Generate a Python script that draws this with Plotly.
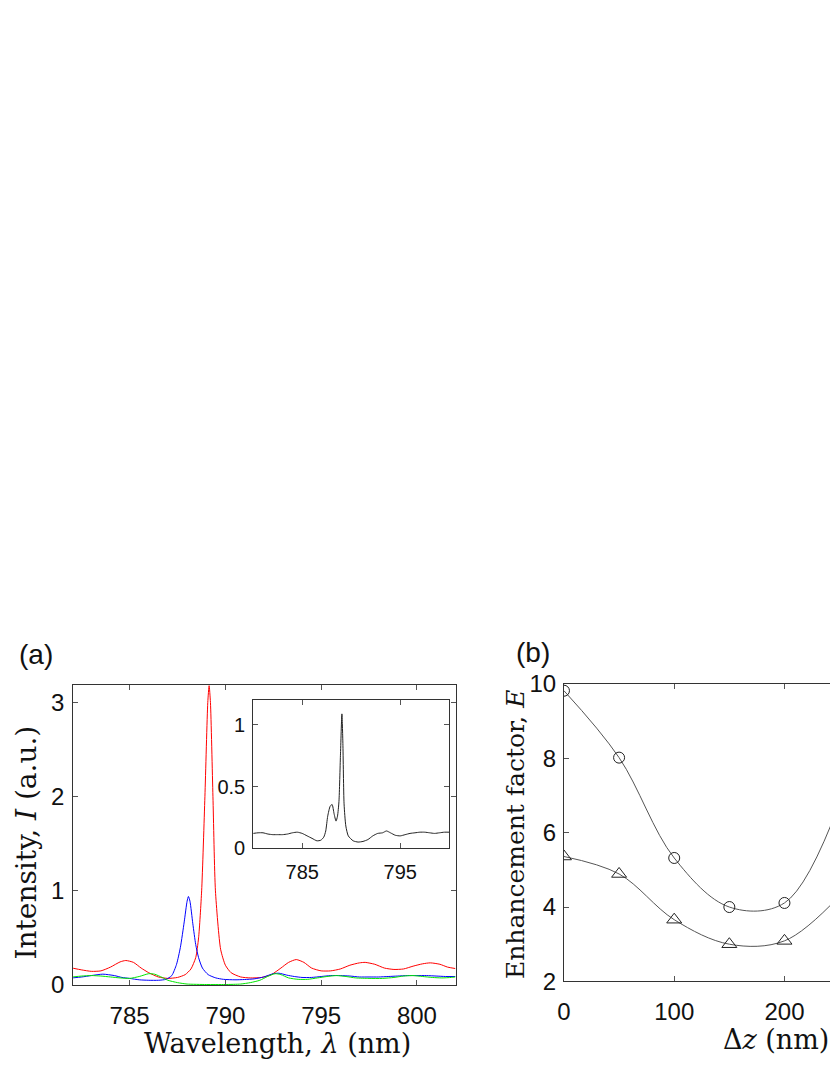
import plotly.graph_objects as go

# ---------------- Panel (a): spectra ----------------
red_wl = [782.0, 782.5, 783.0, 783.5, 784.0, 784.5, 784.8, 785.2, 785.6, 786.0, 786.5, 787.0,
          787.5, 787.9, 788.2, 788.45, 788.6, 788.76, 788.93, 789.08, 789.15, 789.22, 789.35,
          789.48, 789.75, 790.0, 790.3, 790.8, 791.3, 791.9, 792.4, 792.9, 793.3, 793.7,
          794.1, 794.5, 795.0, 795.5, 796.0, 796.5, 797.0, 797.3, 797.8, 798.3, 798.8,
          799.3, 799.8, 800.3, 800.7, 801.2, 801.6, 802.0]
red_I = [0.18, 0.16, 0.145, 0.15, 0.19, 0.245, 0.26, 0.24, 0.18, 0.13, 0.085, 0.07,
         0.08, 0.11, 0.17, 0.29, 0.5, 1.0, 2.0, 3.0, 3.18, 3.0, 2.0,
         1.0, 0.38, 0.21, 0.13, 0.085, 0.075, 0.08, 0.11, 0.18, 0.24, 0.27,
         0.24, 0.18, 0.15, 0.15, 0.17, 0.21, 0.235, 0.24, 0.22, 0.18, 0.165,
         0.17, 0.2, 0.225, 0.235, 0.22, 0.19, 0.175]

blue_wl = [782.0, 782.5, 783.0, 783.6, 784.2, 784.6, 785.0, 785.5, 786.0, 786.5, 786.9, 787.2,
           787.45, 787.65, 787.85, 788.0, 788.07, 788.15, 788.3, 788.45, 788.6, 788.8, 789.1,
           789.5, 789.9, 790.5, 791.0, 791.5, 792.0, 792.5, 792.8, 793.2, 793.6, 794.0,
           794.5, 795.0, 795.5, 796.0, 796.5, 797.0, 797.5, 798.0, 798.5, 799.0, 799.5,
           800.0, 800.5, 801.0, 801.5, 802.0]
blue_I = [0.075, 0.085, 0.1, 0.115, 0.1, 0.08, 0.07, 0.055, 0.05, 0.05, 0.06, 0.1,
          0.22, 0.4, 0.67, 0.89, 0.94, 0.89, 0.65, 0.43, 0.29, 0.18, 0.11,
          0.075, 0.06, 0.055, 0.058, 0.065, 0.085, 0.12, 0.125, 0.105, 0.09, 0.08,
          0.08, 0.09, 0.1, 0.1, 0.095, 0.085, 0.085, 0.085, 0.09, 0.095, 0.1,
          0.1, 0.1, 0.095, 0.09, 0.09]

green_wl = [782.0, 782.5, 783.0, 783.5, 784.0, 784.5, 785.0, 785.5, 786.0, 786.3, 786.7, 787.0,
            787.5, 788.0, 789.0, 790.0, 790.8, 791.3, 791.8, 792.2, 792.6, 792.9, 793.3,
            793.8, 794.3, 794.8, 795.3, 795.8, 796.3, 796.8, 797.5, 798.2, 798.8, 799.3,
            799.8, 800.3, 800.8, 801.3, 801.8, 802.0]
green_I = [0.085, 0.095, 0.1, 0.095, 0.085, 0.075, 0.07, 0.09, 0.12, 0.115, 0.08, 0.05,
           0.025, 0.01, 0.005, 0.005, 0.01, 0.025, 0.05, 0.09, 0.12, 0.11, 0.075,
           0.06, 0.06, 0.075, 0.09, 0.1, 0.09, 0.075, 0.07, 0.07, 0.08, 0.095,
           0.1, 0.09, 0.08, 0.075, 0.08, 0.085]

inset_wl = [780.0, 780.5, 781.0, 781.5, 782.0, 782.5, 783.0, 783.5, 784.0, 784.5, 785.0, 785.5,
            786.0, 786.5, 786.9, 787.2, 787.4, 787.6, 787.85, 788.05, 788.25, 788.45, 788.6,
            788.75, 788.9, 789.05, 789.15, 789.27, 789.45, 789.7, 790.2, 790.7, 791.2,
            791.7, 792.2, 792.7, 793.2, 793.6, 794.0, 794.5, 795.0, 795.5, 796.0, 796.5,
            797.0, 797.5, 798.0, 798.5, 799.0, 799.5, 800.0]
inset_I = [0.12, 0.125, 0.125, 0.115, 0.11, 0.11, 0.11, 0.115, 0.125, 0.13, 0.12, 0.1,
           0.08, 0.06, 0.065, 0.09, 0.14, 0.26, 0.34, 0.355, 0.28, 0.22, 0.26,
           0.38, 0.75, 1.09, 0.85, 0.36, 0.18, 0.1, 0.06, 0.05, 0.055,
           0.07, 0.1, 0.12, 0.125, 0.14, 0.125, 0.105, 0.1, 0.11, 0.12, 0.125,
           0.13, 0.13, 0.125, 0.12, 0.125, 0.13, 0.13]

# ---------------- Panel (b): enhancement factor ----------------
dz = [0, 50, 100, 150, 200, 250]
E_circle = [9.82, 8.02, 5.32, 4.0, 4.11, 6.8]
E_triangle = [5.36, 4.89, 3.66, 3.0, 3.09, 4.3]

a_xticks = [785, 790, 795, 800]
a_yticks = [0, 1, 2, 3]
in_xticks = [785, 795]
in_yticks = [0, 0.5, 1]
b_xticks = [0, 100, 200]
b_yticks = [2, 4, 6, 8, 10]

W, H = 830, 1075
def px(x): return x / W
def py(y): return 1 - y / H

fig = go.Figure()
fig.add_trace(go.Scatter(x=red_wl, y=red_I, mode="lines", line=dict(color="#ff0000", width=1, shape="spline", smoothing=0.6), xaxis="x", yaxis="y"))
fig.add_trace(go.Scatter(x=blue_wl, y=blue_I, mode="lines", line=dict(color="#0000ff", width=1, shape="spline", smoothing=0.6), xaxis="x", yaxis="y"))
fig.add_trace(go.Scatter(x=green_wl, y=green_I, mode="lines", line=dict(color="#00e600", width=1, shape="spline", smoothing=0.6), xaxis="x", yaxis="y"))
fig.add_trace(go.Scatter(x=inset_wl, y=inset_I, mode="lines", line=dict(color="#222222", width=1, shape="spline", smoothing=0.6), xaxis="x2", yaxis="y2"))

fig.add_trace(go.Scatter(x=dz, y=E_circle, mode="lines+markers",
                         line=dict(color="#555555", width=1, shape="spline", smoothing=1.0),
                         marker=dict(symbol="circle-open", size=11, color="#222222", line=dict(width=1)),
                         xaxis="x3", yaxis="y3"))
fig.add_trace(go.Scatter(x=dz, y=E_triangle, mode="lines+markers",
                         line=dict(color="#555555", width=1, shape="spline", smoothing=1.0),
                         marker=dict(symbol="triangle-up-open", size=13, color="#222222", line=dict(width=1)),
                         xaxis="x3", yaxis="y3"))

tickfont = dict(family="Liberation Sans, Arial, sans-serif", size=24, color="#111111")
insetfont = dict(family="Liberation Sans, Arial, sans-serif", size=20, color="#111111")
common = dict(showgrid=False, zeroline=False, showline=True, linecolor="#333333", linewidth=1,
              ticks="inside", ticklen=5, tickcolor="#555555", tickwidth=1)

fig.update_layout(
    width=W, height=H, margin=dict(l=0, r=0, t=0, b=0),
    paper_bgcolor="white", plot_bgcolor="white", showlegend=False,
    xaxis=dict(domain=[px(66.7), px(453)], range=[782.05, 802.05], tickvals=a_xticks,
               tickfont=tickfont, mirror="ticks", ticklabelstandoff=9, anchor="y", **common),
    yaxis=dict(domain=[py(996), py(688)], range=[0, 3.19], tickvals=a_yticks,
               tickfont=tickfont, mirror="ticks", ticklabelstandoff=3, anchor="x", **common),
    xaxis2=dict(domain=[px(248.3), px(446)], range=[780, 800], tickvals=in_xticks,
                tickfont=insetfont, mirror="ticks", ticklabelstandoff=6, anchor="y2", **common),
    yaxis2=dict(domain=[py(855.7), py(704)], range=[0, 1.2], tickvals=in_yticks,
                tickfont=insetfont, mirror="ticks", ticklabelstandoff=3, anchor="x2", **common),
    xaxis3=dict(domain=[px(561.7), 1.0], range=[0, 241.3], tickvals=b_xticks,
                tickfont=tickfont, mirror="ticks", ticklabelstandoff=9, anchor="y3", **common),
    yaxis3=dict(domain=[py(992.3), py(687.3)], range=[2, 10], tickvals=b_yticks,
                tickfont=tickfont, mirror=False, ticklabelstandoff=2, anchor="x3", **common),
)

serif_family = "DejaVu Serif, Liberation Serif, serif"
sans_lbl = dict(family="Liberation Sans, Arial, sans-serif", size=28, color="#111111")
ann = [
    dict(text="(a)", x=px(29), y=py(657), font=sans_lbl),
    dict(text="(b)", x=px(530), y=py(655), font=sans_lbl),
    dict(text="Intensity, <i>I</i> (a.u.)", x=px(20), y=py(850), textangle=-90,
         font=dict(family=serif_family, size=28, color="#111111")),
    dict(text="Wavelength, <i>λ</i> (nm)", x=px(273), y=py(1056),
         font=dict(family=serif_family, size=27, color="#111111")),
    dict(text="Enhancement factor, <i>E</i>", x=px(513.5), y=py(842), textangle=-90,
         font=dict(family=serif_family, size=25, color="#111111")),
    dict(text="Δ<i>z</i> (nm)", x=px(720), y=py(1052), xanchor="left",
         font=dict(family=serif_family, size=27, color="#111111")),
]
for a in ann:
    a.setdefault("xanchor", "center")
    a.setdefault("yanchor", "middle")
    fig.add_annotation(xref="paper", yref="paper", showarrow=False, **a)

fig.write_html("out.html", config={"displayModeBar": False},
               post_script="document.body.style.margin='0px';")
